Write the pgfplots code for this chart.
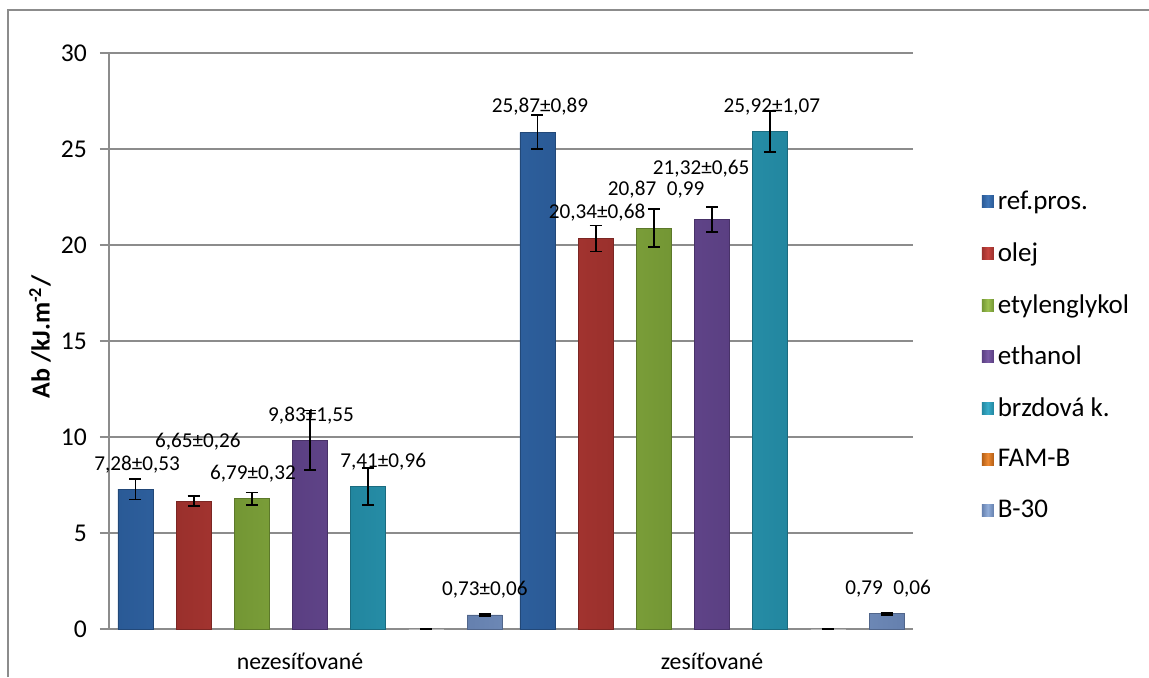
\documentclass[border=0pt]{standalone}
\usepackage{fontspec}
\setmainfont{Carlito}
\usepackage{pgfplots}
\pgfplotsset{compat=1.18}
\definecolor{gridc}{HTML}{8C8C8C}
\definecolor{c1}{HTML}{3F76B8}\definecolor{c1d}{HTML}{2A5A96}
\definecolor{c2}{HTML}{C8443F}\definecolor{c2d}{HTML}{9A302C}
\definecolor{c3}{HTML}{9CC150}\definecolor{c3d}{HTML}{739634}
\definecolor{c4}{HTML}{7A5AA5}\definecolor{c4d}{HTML}{5A3F82}
\definecolor{c5}{HTML}{38ADCA}\definecolor{c5d}{HTML}{22869F}
\definecolor{c6}{HTML}{EE8A32}\definecolor{c6d}{HTML}{B35E15}
\definecolor{c7}{HTML}{92AEDA}\definecolor{c7d}{HTML}{6580AE}
\pgfplotsset{
  sbar/.style={draw=#1d!80!black, left color=#1d, right color=#1d, middle color=#1},
}
\begin{document}
\begin{tikzpicture}[x=1pt,y=1pt]
\useasboundingbox (0,0) rectangle (574.5,338.5);
\draw[color=gridc, line width=1pt] (4,0) -- (4,333.5) -- (574.5,333.5);
\begin{axis}[
  at={(54.5pt,24pt)}, anchor=south west, scale only axis,
  width=402pt, height=288pt,
  ybar=11.6pt, bar width=17.5pt,
  xmin=-0.5, xmax=1.5, ymin=0, ymax=30,
  xtick={0,1}, xticklabels={nezesíťované\hspace*{10pt}, zesíťované},
  major x tick style={draw=none},
  ytick={0,5,...,30},
  axis x line*=bottom, axis y line*=left,
  axis line style={draw=gridc, line width=0.8pt},
  ymajorgrids, grid style={draw=gridc, line width=0.8pt},
  y tick style={draw=gridc, line width=0.8pt},
  tick align=outside, major tick length=4.5pt,
  /pgf/number format/assume math mode=true,
  yticklabel style={font=\fontsize{12.8}{14}\selectfont, xshift=-3pt},
  xticklabel style={font=\fontsize{11.9}{14}\selectfont, yshift=-4pt},
  legend style={draw=none, fill=none, at={(axis description cs:1.085,0.768)}, anchor=north west,
    font=\fontsize{13.5}{15}\selectfont, row sep=11pt, inner sep=0pt, cells={anchor=west}},
  legend image code/.code={\path[#1,draw=none] (0pt,-3pt) rectangle (6pt,3pt);},
  every axis plot/.append style={error bars/y dir=both, error bars/y explicit,
    error bars/error bar style={black, line width=0.9pt},
    error bars/error mark options={black, rotate=90, mark size=3pt, line width=0.9pt}},
  clip=false,
]
\addplot[sbar=c1] coordinates {(0,7.28) +- (0,0.53) (1,25.87) +- (0,0.89)};
\addplot[sbar=c2] coordinates {(0,6.65) +- (0,0.26) (1,20.34) +- (0,0.68)};
\addplot[sbar=c3] coordinates {(0,6.79) +- (0,0.32) (1,20.87) +- (0,0.99)};
\addplot[sbar=c4] coordinates {(0,9.83) +- (0,1.55) (1,21.32) +- (0,0.65)};
\addplot[sbar=c5] coordinates {(0,7.41) +- (0,0.96) (1,25.92) +- (0,1.07)};
\addplot[sbar=c6, draw=gridc!60] coordinates {(0,0) +- (0,0) (1,0) +- (0,0)};
\addplot[sbar=c7] coordinates {(0,0.73) +- (0,0.06) (1,0.79) +- (0,0.06)};
\legend{ref.pros., olej, etylenglykol, ethanol, brzdová k., FAM-B, B-30}
\begin{scope}[every node/.style={font=\fontsize{10.6}{12}\selectfont, inner sep=0pt}]
\node at (axis cs:-0.430,8.54) {7,28±0,53};
\node at (axis cs:-0.279,9.74) {6,65±0,26};
\node at (axis cs:-0.142,8.07) {6,79±0,32};
\node at (axis cs:0.0025,11.09) {9,83±1,55};
\node at (axis cs:0.182,8.70) {7,41±0,96};
\node at (axis cs:0.435,2.03) {0,73±0,06};
\node at (axis cs:0.572,27.19) {25,87±0,89};
\node at (axis cs:0.714,21.67) {20,34±0,68};
\node at (axis cs:0.861,22.86) {20,87\phantom{±}0,99};
\node at (axis cs:0.973,24.0) {21,32±0,65};
\node at (axis cs:1.149,27.19) {25,92±1,07};
\node at (axis cs:1.438,2.08) {0,79\phantom{±}0,06};
\end{scope}
\end{axis}
\node[rotate=90, font=\bfseries\fontsize{13}{15}\selectfont] at (20,170) {Ab /kJ.m\textsuperscript{-2}/};
\end{tikzpicture}
\end{document}
